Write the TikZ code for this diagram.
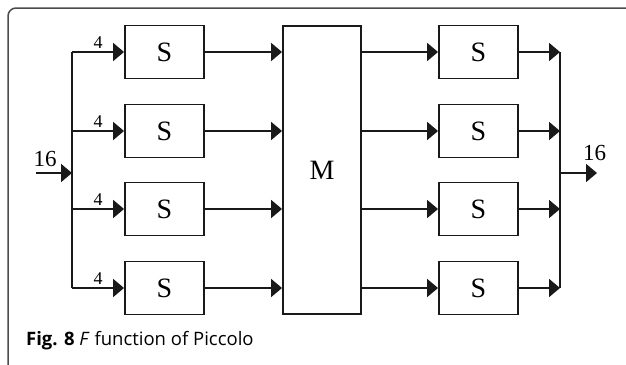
\documentclass[tikz,border=0pt]{standalone}
\usepackage{fontspec}
\newfontfamily\capfont{Open Sans}
\newfontfamily\diafont{Liberation Serif}
\usetikzlibrary{arrows.meta,calc}
\begin{document}
\begin{tikzpicture}[x=1pt,y=-1pt,
  sbox/.style={draw=black!90,line width=1.9pt,minimum width=79pt,minimum height=53pt,inner sep=0pt,font=\diafont\fontsize{28}{28}\selectfont},
  conn/.style={draw=black!90,line width=1.9pt,-{Triangle[length=11pt,width=18pt]}},
  wire/.style={draw=black!90,line width=1.9pt},
  lbl/.style={inner sep=0pt,font=\diafont\fontsize{18}{18}\selectfont},
  biglbl/.style={inner sep=0pt,font=\diafont\fontsize{23}{23}\selectfont}]
\useasboundingbox (0,0) rectangle (626,364);
% frame
\draw[line width=1.5pt,color=black!70,rounded corners=8pt] (8,370) -- (8,8) -- (640,8);
% boxes
\foreach \i/\y in {1/52,2/131,3/209,4/288}{
  \node[sbox] (L\i) at (164.5,\y) {S};
  \node[sbox] (R\i) at (478.5,\y) {S};
  \coordinate (BL\i) at (72,\y);
  \coordinate (BR\i) at (560,\y);
}
\node[sbox,minimum width=78pt,minimum height=288pt] (M) at (322,170) {M};
% input
\coordinate (in) at (36,173);
\coordinate (inB) at (72,173);
\coordinate (outB) at (560,173);
\coordinate (out) at (597,173);
\draw[conn] (in) -- (inB);
\node[biglbl] (l16a) at (45,159) {16};
\draw[wire] (BL1) -- (BL4);
\draw[wire] (BR1) -- (BR4);
\foreach \i in {1,...,4}{
  \draw[conn] (BL\i) -- (L\i.west);
  \node[lbl] (f\i) at ([yshift=9pt]$(BL\i)!0.5!(L\i.west)$) {4};
  \draw[conn] (L\i.east) -- (L\i.east -| M.west);
  \draw[conn] (L\i.east -| M.east) -- (R\i.west);
  \draw[conn] (R\i.east) -- (BR\i);
}
\draw[conn] (outB) -- (out);
\node[biglbl] (l16b) at (594.5,153) {16};
% caption
\node[anchor=base west,inner sep=0pt,font=\capfont\fontsize{18.5}{18.5}\selectfont] (cap) at (26,345) {\textbf{Fig. 8} \textit{F} function of Piccolo};
\end{tikzpicture}
\end{document}
